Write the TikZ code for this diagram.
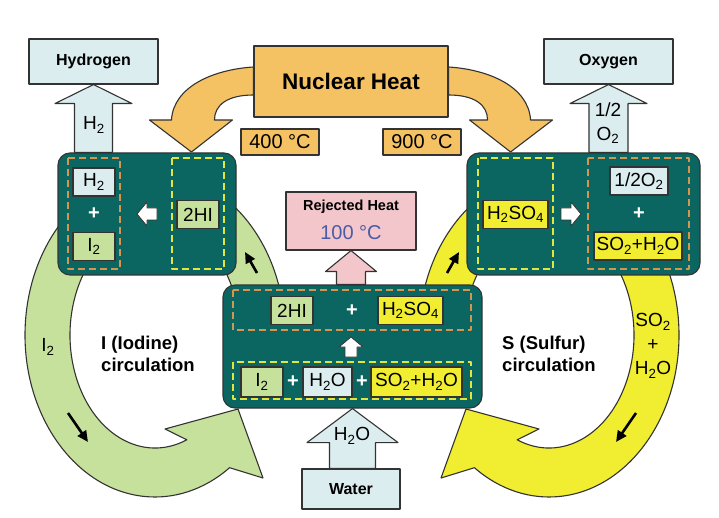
\documentclass[tikz,border=0pt]{standalone}
\usepackage{fontspec}
\setmainfont{Liberation Sans}
\usetikzlibrary{arrows.meta,calc,positioning}
\definecolor{ReactorTeal}{HTML}{0B6662}
\definecolor{HeatOrange}{HTML}{F4C163}
\definecolor{IodineGreen}{HTML}{C6E19C}
\definecolor{SulfurYellow}{HTML}{F1ED30}
\definecolor{GasBlue}{HTML}{DCEDF0}
\definecolor{RejectPink}{HTML}{F2C6CB}
\definecolor{EdgeGray}{HTML}{333333}
\definecolor{DashOrange}{HTML}{D4964E}
\definecolor{DashYellow}{HTML}{E2E63C}
\definecolor{TempBlue}{HTML}{4B5BA6}
\newcommand{\ChemFont}{\fontsize{19}{24}\selectfont}

\begin{document}
\begin{tikzpicture}[
  x=1pt,y=-1pt,
  line join=round,
  >={Triangle[length=11pt,width=10pt]},
  edge line/.style={draw=EdgeGray,line width=1.1pt},
  reactor/.style={edge line,fill=ReactorTeal,rounded corners=12pt,inner sep=0pt},
  outer box/.style={edge line,fill=GasBlue,inner sep=0pt,
    font=\fontsize{16}{18}\selectfont\bfseries},
  chem/.style={edge line,inner sep=0pt,minimum height=28pt,font=\ChemFont},
  temp box/.style={edge line,fill=HeatOrange,inner sep=0pt,minimum width=78pt,
    minimum height=26pt,font=\fontsize{20}{22}\selectfont},
  orange dash/.style={draw=DashOrange,line width=1.4pt,dash pattern=on 7pt off 4pt},
  yellow dash/.style={draw=DashYellow,line width=1.4pt,dash pattern=on 7pt off 4pt},
  plus sign/.style={text=white,font=\fontsize{20}{22}\selectfont\bfseries},
  band/.style={edge line},
  block/.style={edge line},
  small arrow/.style={draw=EdgeGray,line width=0.8pt,fill=white},
  flow mark/.style={->,line width=2.6pt,black},
  cycle text/.style={font=\fontsize{18.5}{22}\selectfont\bfseries,align=left},
  every node/.style={text=black}
]
\useasboundingbox (0,0) rectangle (719,518);

% Ring with its arrow head, drawn around a centre at height 335.
\newcommand{\DrawCycle}[3]{%
  \begin{scope}[shift={(#1,335)},xscale=#2]
    \path[band,fill=#3]
      (5:130 and 162) arc[start angle=5,end angle=-305,x radius=130,y radius=162]
      -- (108,143) -- (83,74) -- (10,94)
      -- (-292:85 and 113) arc[start angle=-292,end angle=5,x radius=85,y radius=113]
      -- cycle;
  \end{scope}%
}

% Broad arrow pointing up from one node to the one above it.
\newcommand{\UpBlock}[6][]{%
  \path[block,#1] let \p1=(#2.north), \p2=(#3.south) in
    (\x2-#4,\y1) -- (\x2-#4,\y2-#6) -- (\x2-#5,\y2-#6) -- (\x2,\y2)
    -- (\x2+#5,\y2-#6) -- (\x2+#4,\y2-#6) -- (\x2+#4,\y1) -- cycle;%
}

% Small white arrow inside the reactors.
\newcommand{\WhiteArrow}[3]{%
  \begin{scope}[shift={(#1,#2)},rotate=#3]
    \path[small arrow] (10,0) -- (0,-12) -- (0,-6) -- (-10,-6)
      -- (-10,6) -- (0,6) -- (0,12) -- cycle;
  \end{scope}%
}

% Iodine and sulfur circulation.
\DrawCycle{155}{1}{IodineGreen}
\DrawCycle{549}{-1}{SulfurYellow}

% Heat supply.
\node[edge line,fill=HeatOrange,minimum width=194pt,minimum height=71pt,
  font=\fontsize{22.5}{24}\selectfont\bfseries] (nuclear) at (351,81.5) {Nuclear Heat};
\foreach \side/\flip in {west/1,east/-1} {
  \begin{scope}[shift={(nuclear.\side)},xscale=\flip]
    \path[block,fill=HeatOrange]
      (0,-14.5) .. controls (-40,-12) and (-80,5) .. (-82,38.5)
      -- (-104,38.5) -- (-62,70.5) -- (-21,38.5) -- (-39,38.5)
      .. controls (-39,23.5) and (-26,13.5) .. (0,13.5) -- cycle;
  \end{scope}
}
\node[temp box] (lowTemp) at (280,142) {400 °C};
\node[temp box] (highTemp) at (422,142) {900 °C};

% Products, feed and rejected heat.
\node[outer box,minimum width=129pt,minimum height=45pt] (hydrogen) at (93.5,61.5) {Hydrogen};
\node[outer box,minimum width=129pt,minimum height=45pt] (oxygen) at (608.5,61.5) {Oxygen};
\node[outer box,minimum width=98pt,minimum height=40pt] (water) at (351,489) {Water};
\node[edge line,fill=RejectPink,minimum width=130pt,minimum height=58pt] (rejected) at (351,221) {};
\node[font=\fontsize{14.5}{16}\selectfont\bfseries] (rejectedTitle) at (351,207) {Rejected Heat};
\node[font=\fontsize{20}{22}\selectfont,text=TempBlue] (rejectedTemp) at (351,233) {100 °C};

% Reactors.
\node[reactor,minimum width=178pt,minimum height=122pt] (hiReactor) at (147,214) {};
\node[reactor,minimum width=233pt,minimum height=122pt] (soReactor) at (583.5,214) {};
\node[reactor,minimum width=259pt,minimum height=123pt] (bunsen) at (352.5,346.5) {};

\UpBlock[fill=GasBlue]{hiReactor}{hydrogen}{19pt}{38.5pt}{19pt}
\UpBlock[fill=GasBlue]{soReactor}{oxygen}{19.5pt}{38.5pt}{19pt}
\UpBlock[fill=RejectPink]{bunsen}{rejected}{14.5pt}{25.5pt}{21pt}
\UpBlock[fill=GasBlue]{water}{bunsen}{23pt}{45.5pt}{34pt}

\node[font=\ChemFont] (hydrogenFlow) at (94,125) {H\textsubscript{2}};
\node[font=\ChemFont,align=center] (oxygenFlow) at (608,123) {1/2\\O\textsubscript{2}};
\node[font=\ChemFont] (waterFlow) at (352,436) {H\textsubscript{2}O};

% HI decomposition.
\draw[orange dash] (68,158) rectangle (120,269);
\draw[yellow dash] (172,158) rectangle (224,269);
\node[chem,fill=GasBlue,minimum width=42pt] (hiH2) at (94,182) {H\textsubscript{2}};
\node[plus sign] (hiPlus) at (94,214) {+};
\node[chem,fill=IodineGreen,minimum width=42pt] (hiI2) at (94,246.5) {I\textsubscript{2}};
\node[chem,fill=IodineGreen,minimum width=42pt] (hiFeed) at (198,214.5) {2HI};
\WhiteArrow{147}{214}{180}

% H2SO4 decomposition.
\draw[yellow dash] (478,158) rectangle (553,269);
\draw[orange dash] (588,158) rectangle (689,269);
\node[chem,fill=SulfurYellow,minimum width=65pt] (soFeed) at (515.5,214.5) {H\textsubscript{2}SO\textsubscript{4}};
\node[chem,fill=GasBlue,minimum width=58pt] (soO2) at (639,181) {1/2O\textsubscript{2}};
\node[plus sign] (soPlus) at (639,214) {+};
\node[chem,fill=SulfurYellow,minimum width=88pt] (soOut) at (638,246) {SO\textsubscript{2}+H\textsubscript{2}O};
\WhiteArrow{571}{214}{0}

% Bunsen reaction.
\draw[orange dash] (233,290) rectangle (471,330);
\draw[yellow dash] (233,362) rectangle (471,399);
\node[chem,fill=IodineGreen,minimum width=42pt] (bunHI) at (292,310.5) {2HI};
\node[plus sign] (bunPlusA) at (352,311) {+};
\node[chem,fill=SulfurYellow,minimum width=65pt] (bunSO4) at (410.5,310.5) {H\textsubscript{2}SO\textsubscript{4}};
\node[chem,fill=IodineGreen,minimum width=42pt,minimum height=30pt] (bunI2) at (262,382) {I\textsubscript{2}};
\node[plus sign] (bunPlusB) at (293,382) {+};
\node[chem,fill=GasBlue,minimum width=49pt,minimum height=30pt] (bunH2O) at (327.5,382) {H\textsubscript{2}O};
\node[plus sign] (bunPlusC) at (362,382) {+};
\node[chem,fill=SulfurYellow,minimum width=91pt,minimum height=30pt] (bunSO2) at (416.5,382) {SO\textsubscript{2}+H\textsubscript{2}O};
\WhiteArrow{351}{347}{90}

% Ring labels and flow marks.
\node[font=\ChemFont] (iodineTag) at (48,347) {I\textsubscript{2}};
\node[font=\ChemFont,align=center] (sulfurTag) at (653,346) {SO\textsubscript{2}\\+\\H\textsubscript{2}O};
\node[cycle text] (iodineName) at (148,354) {I (Iodine)\\circulation};
\node[cycle text] (sulfurName) at (549,354) {S (Sulfur)\\circulation};

\coordinate (iodineUpTail) at (257,273);
\coordinate (iodineUpHead) at (245,252);
\coordinate (iodineDownTail) at (68,413);
\coordinate (iodineDownHead) at (88,442);
\coordinate (sulfurUpTail) at (447,273);
\coordinate (sulfurUpHead) at (459,252);
\coordinate (sulfurDownTail) at (636,413);
\coordinate (sulfurDownHead) at (616,442);
\draw[flow mark] (iodineUpTail) -- (iodineUpHead);
\draw[flow mark] (iodineDownTail) -- (iodineDownHead);
\draw[flow mark] (sulfurUpTail) -- (sulfurUpHead);
\draw[flow mark] (sulfurDownTail) -- (sulfurDownHead);

\end{tikzpicture}
\end{document}
